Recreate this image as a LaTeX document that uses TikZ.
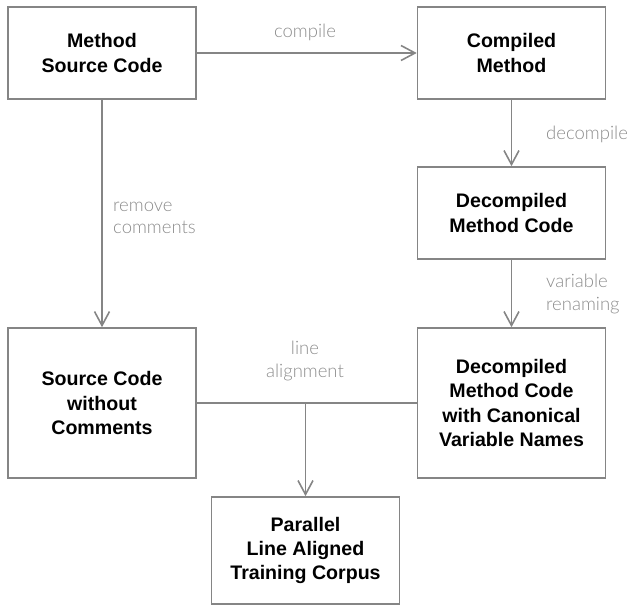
\documentclass[tikz,border=0pt]{standalone}
\usepackage{fontspec}
\setmainfont{Liberation Sans}
\newfontfamily\lightfont{Lato Light}
\usetikzlibrary{arrows.meta}
\definecolor{linegray}{HTML}{858585}
\definecolor{labelgray}{HTML}{8C8C8C}
\tikzset{
  procbox/.style={draw=linegray, line width=1.6pt, minimum width=188pt, align=center,
    font=\fontsize{19.6}{24.2}\selectfont\bfseries, inner sep=0pt},
  conn/.style={draw=linegray, line width=1.6pt},
  arr/.style={conn, -{Straight Barb[length=14pt,width=15pt,line width=1.6pt]}},
  lbl/.style={text=labelgray, font=\lightfont\fontsize{18.5}{22.5}\selectfont, inner sep=0pt}
}
\begin{document}
\begin{tikzpicture}[x=1pt,y=-1pt]
\useasboundingbox (0,0) rectangle (627,607);
\node[procbox, minimum height=92pt] (src) at (102,53) {Method\\Source Code};
\node[procbox, minimum height=92pt] (comp) at (511.5,53) {Compiled\\Method};
\node[procbox, minimum height=92pt] (dec) at (511.5,213) {Decompiled\\Method Code};
\node[procbox, minimum height=150pt] (nocom) at (102,403) {Source Code\\without\\Comments};
\node[procbox, minimum height=150pt] (canon) at (511.5,403) {Decompiled\\Method Code\\with Canonical\\Variable Names};
\node[procbox, minimum height=107pt] (corpus) at (305.5,550.5) {Parallel\\Line Aligned\\Training Corpus};
\coordinate (join) at (corpus.north |- nocom.east);

\draw[arr] (src) -- (comp);
\draw[arr] (comp) -- (dec);
\draw[arr] (dec) -- (canon);
\draw[arr] (src) -- (nocom);
\draw[conn] (nocom) -- (canon);
\draw[arr] (join) -- (corpus);

\node[lbl] (lcompile) at (305,32) {compile};
\node[lbl, anchor=west] (ldecompile) at (546,134) {decompile};
\node[lbl, anchor=west, align=left] (lrename) at (546,294) {variable\\renaming};
\node[lbl, anchor=west, align=left] (lremove) at (113,218) {remove\\comments};
\node[lbl, align=center] (lalign) at (305,361) {line\\alignment};
\end{tikzpicture}
\end{document}
